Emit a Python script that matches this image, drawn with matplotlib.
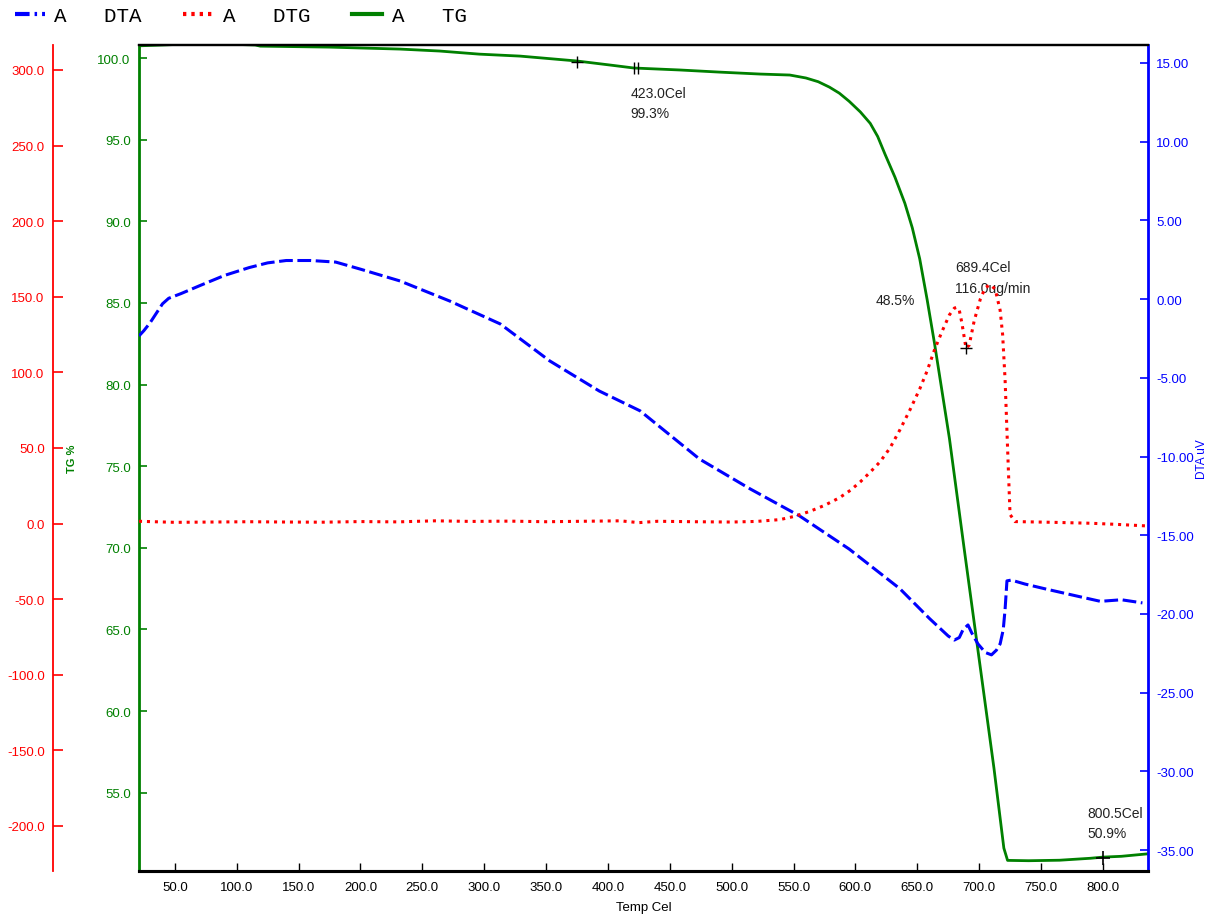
import matplotlib
matplotlib.use("Agg")
from matplotlib import pyplot as plt
from matplotlib.lines import Line2D
from matplotlib.ticker import FormatStrFormatter

# TG (%) vs temperature
tg_temp = [21, 40, 60, 90, 115, 119, 175, 232, 264, 296, 329, 375, 402, 421,
           458, 490, 523, 547, 560, 570, 579, 587, 595, 604, 612, 618, 624,
           632, 640, 646, 652, 658, 664, 676, 688, 700, 712, 720, 723, 740,
           765, 790, 800, 815, 836]
tg_val = [100.75, 100.8, 100.86, 100.86, 100.8, 100.73, 100.67, 100.55, 100.43,
          100.24, 100.12, 99.82, 99.57, 99.39, 99.27, 99.14, 99.02, 98.96,
          98.78, 98.55, 98.22, 97.85, 97.35, 96.7, 96.0, 95.2, 94.1, 92.7, 91.1,
          89.6, 87.7, 85.2, 82.5, 76.7, 69.9, 63.2, 56.5, 51.6, 50.85, 50.83,
          50.86, 50.98, 51.05, 51.1, 51.25]

# DTA (uV)
dta_temp = [21, 25, 30, 35, 40, 45, 55, 70, 90, 110, 125, 140, 160, 180, 200,
            232, 272, 313, 353, 393, 426, 474, 515, 555, 595, 636, 660, 675,
            680, 684, 687, 691, 694, 699, 705, 710, 714, 717, 719.5, 721,
            722.5, 726, 737, 753, 781, 798, 815, 832]
dta_val = [-2.34, -2.0, -1.5, -0.9, -0.3, 0.05, 0.35, 0.85, 1.5, 2.0, 2.3, 2.45,
           2.45, 2.35, 1.9, 1.15, -0.12, -1.58, -3.93, -5.84, -7.1, -10.16,
           -12.06, -13.78, -15.88, -18.4, -20.3, -21.4, -21.66, -21.5, -21.0,
           -20.7, -21.2, -21.9, -22.45, -22.6, -22.3, -21.9, -21.0, -19.7,
           -17.9, -17.85, -18.1, -18.4, -18.9, -19.2, -19.1, -19.3]

# DTG (ug/min)
dtg_temp = [21, 50, 80, 110, 140, 170, 200, 230, 260, 290, 320, 350, 380, 410,
            425, 440, 470, 500, 520, 539, 551, 563, 575, 587, 596, 604, 612,
            620, 628, 636, 644, 652, 658, 664, 670, 676, 680, 682, 684, 686,
            689.4, 692, 696, 701, 705, 709, 713, 717, 719, 721, 723, 725, 729,
            760, 790, 810, 836]
dtg_val = [1.5, 0.8, 1.0, 1.2, 1.0, 0.9, 1.3, 1.1, 1.8, 1.4, 1.6, 1.2, 1.5, 1.8,
           0.6, 1.5, 1.2, 1.0, 1.4, 2.6, 4.8, 8.0, 12.0, 17.0, 22.0, 27.6, 34.0,
           40.9, 50.0, 62.0, 75.0, 89.0, 101.0, 115.0, 127.0, 138.0, 142.5,
           143.0, 141.0, 133.0, 116.0, 118.0, 134.0, 148.5, 156.0, 158.0, 155.0,
           141.0, 125.0, 95.0, 50.0, 6.0, 1.3, 0.8, 0.2, -0.5, -1.6]

tick_font = ['Liberation Sans Narrow', 'Liberation Sans', 'DejaVu Sans']

fig = plt.figure(figsize=(12.18, 9.2), dpi=100)
ax = fig.add_axes([139 / 1218, 1 - 872 / 920, 1009 / 1218, 826 / 920])
ax2 = ax.twinx()
ax3 = ax.twinx()

green, blue, red = '#008000', '#0000ff', '#ff0000'

ax.plot(tg_temp, tg_val, color=green, lw=2)
ax2.plot(dta_temp, dta_val, color=blue, lw=2.2, dashes=(4.5, 1.5))
ax3.plot(dtg_temp, dtg_val, color=red, lw=2.2, dashes=(1, 1.6))

ax.set_xlim(21, 836.5)
ax.set_ylim(50.2, 100.8)
ax2.set_ylim(-36.33, 16.14)
ax3.set_ylim(-229.8, 316.5)

# markers
ax.plot([375], [99.78], marker='+', color='black', ms=9, mew=1)
ax.plot([421, 424], [99.42, 99.4], ls='none', marker='|', color='black', ms=9, mew=1)
ax.plot([800.5], [51.0], marker='+', color='black', ms=10, mew=1.2)
ax3.plot([689.4], [116.0], marker='+', color='black', ms=9, mew=1)

ann_kw = dict(fontsize=10, family=tick_font, color='#222222', va='top',
              ha='left', linespacing=1.55)
ax.text(418, 98.3, '423.0Cel\n99.3%', **ann_kw)
ax.text(680.5, 87.6, '689.4Cel\n116.0ug/min', **ann_kw)
ax.text(800.5 - 13, 54.2, '800.5Cel\n50.9%', **ann_kw)
ax.text(616.5, 85.6, '48.5%', **ann_kw)

# x axis
ax.set_xticks(range(50, 801, 50))
ax.xaxis.set_major_formatter(FormatStrFormatter('%.1f'))
ax.tick_params(axis='x', direction='in', length=6, width=1, colors='black', pad=7)
ax.set_xlabel('Temp Cel', fontsize=9.5, family=tick_font, labelpad=6)

# TG axis
ax.set_yticks(range(55, 101, 5))
ax.yaxis.set_major_formatter(FormatStrFormatter('%.1f'))
ax.tick_params(axis='y', direction='in', length=6, width=1.2, colors=green, pad=6)
ax.set_ylabel('TG %', color=green, fontsize=8, family=tick_font, fontweight='bold')
ax.yaxis.set_label_coords(-(139 - 77) / 1009, 0.5)

# DTA axis
ax2.set_yticks(range(-35, 16, 5))
ax2.yaxis.set_major_formatter(FormatStrFormatter('%.2f'))
ax2.tick_params(axis='y', direction='in', length=6, width=1.2, colors=blue, pad=6)
ax2.set_ylabel('DTA uV', color=blue, fontsize=8.5, family=tick_font)
ax2.yaxis.set_label_coords((1196 - 139) / 1009, 0.5)

# DTG axis
ax3.yaxis.set_ticks_position('left')
ax3.yaxis.set_label_position('left')
ax3.spines['left'].set_position(('axes', -(139 - 53) / 1009))
ax3.set_yticks(range(-200, 301, 50))
ax3.yaxis.set_major_formatter(FormatStrFormatter('%.1f'))
ax3.tick_params(axis='y', direction='in', length=7, width=1.2, colors=red, pad=6)
for s in ['top', 'bottom', 'right']:
    ax3.spines[s].set_visible(False)
ax3.spines['left'].set_color(red)
ax3.spines['left'].set_linewidth(1.3)

for a in (ax, ax2, ax3):
    for lab in a.get_xticklabels() + a.get_yticklabels():
        lab.set_family(tick_font)
        lab.set_fontsize(9.5)

for a in (ax, ax2):
    a.spines['top'].set_color('black')
    a.spines['bottom'].set_color('black')
    a.spines['top'].set_linewidth(1.6)
    a.spines['bottom'].set_linewidth(2.2)
ax.spines['left'].set_color(green)
ax.spines['left'].set_linewidth(2)
ax2.spines['left'].set_visible(False)
ax.spines['right'].set_visible(False)
ax2.spines['right'].set_color(blue)
ax2.spines['right'].set_linewidth(2)

handles = [Line2D([], [], color=blue, lw=3, dashes=(3.5, 1.2, 0.6, 1.2)),
           Line2D([], [], color=red, lw=3, dashes=(0.8, 1.2)),
           Line2D([], [], color=green, lw=3)]
fig.legend(handles, ['A   DTA', 'A   DTG', 'A   TG'], loc='upper left',
           bbox_to_anchor=(0.0, 1.008), ncol=3, frameon=False,
           prop={'family': ['Liberation Mono', 'DejaVu Sans Mono'], 'size': 15},
           handlelength=1.45, handletextpad=0.45, columnspacing=2.0,
           borderaxespad=0.3)

fig.savefig('out.png', dpi=100)
